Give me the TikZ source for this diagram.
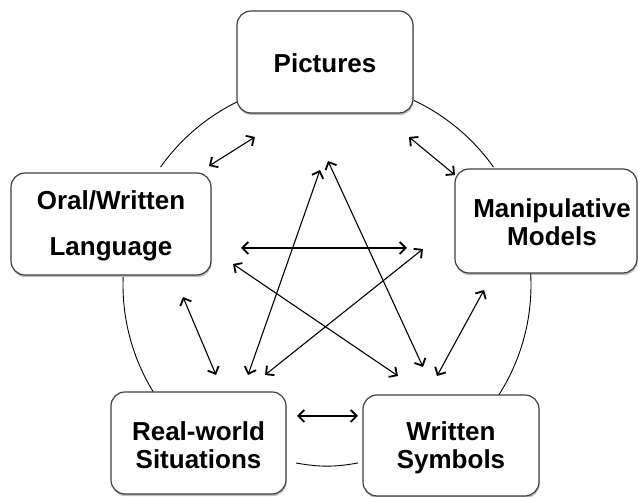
\documentclass[tikz,border=0pt]{standalone}
\usepackage{fontspec}
\setmainfont{Liberation Sans}
\usetikzlibrary{arrows.meta,shadows}
\begin{document}
\begin{tikzpicture}[x=1pt,y=1pt,
  box/.style={draw=black!75, line width=1.2pt, fill=white, rounded corners=14pt,
    drop shadow={shadow xshift=0.6pt, shadow yshift=-2.2pt, opacity=0.35, fill=black!70},
    inner sep=0pt},
  lbl/.style={font=\fontsize{26}{28}\selectfont\bfseries, align=center, inner sep=0pt},
  link/.style={line width=1.1pt, {Straight Barb[length=6pt,width=12pt,line width=1.8pt]}-{Straight Barb[length=6pt,width=12pt,line width=1.8pt]}},
  ring/.style={line width=0.9pt}
]
\useasboundingbox (0,0) rectangle (638,497);
\fill[white] (0,0) rectangle (638,497);

% ring arcs (behind boxes)
\coordinate (ctr) at (327,212);
\draw[ring] ([shift={(115.2:204)}]ctr) arc[start angle=115.2, end angle=144.7, radius=204pt];
\draw[ring] ([shift={(64.8:204)}]ctr) arc[start angle=64.8, end angle=35.3, radius=204pt];
\draw[ring] ([shift={(177.8:204)}]ctr) arc[start angle=177.8, end angle=214.1, radius=204pt];
\draw[ring] ([shift={(3.4:204)}]ctr) arc[start angle=3.4, end angle=-32.9, radius=204pt];
\coordinate (b1) at (296,34);
\coordinate (b2) at (358,34);
\draw[ring] (b1) to[bend right=10] (b2);

% boxes
\node[box, minimum width=176pt, minimum height=102pt] (pic) at (325,435) {};
\node[box, minimum width=200pt, minimum height=102pt] (oral) at (111,273) {};
\node[box, minimum width=182pt, minimum height=104pt] (manip) at (546,276) {};
\node[box, minimum width=175pt, minimum height=102pt] (real) at (198.5,54) {};
\node[box, minimum width=176pt, minimum height=101pt] (writ) at (451,51.5) {};

% labels
\node[lbl] (tpic) at (325,434) {Pictures};
\node[lbl] (toral) at (111,271) {Oral/Written\\[18pt]Language};
\node[lbl] (tmanip) at (552,275) {Manipulative\\Models};
\node[lbl] (treal) at (198.5,52) {Real-world\\Situations};
\node[lbl] (twrit) at (451,49.5) {Written\\Symbols};

% arrow end points
\coordinate (a1) at (209,331); \coordinate (a2) at (255,360);
\coordinate (c1) at (409,360); \coordinate (c2) at (455,322);
\coordinate (h1) at (241,249); \coordinate (h2) at (407,249);
\coordinate (s1) at (248,122); \coordinate (s2) at (320,327);
\coordinate (t1) at (328,336); \coordinate (t2) at (423,130);
\coordinate (u1) at (233,233); \coordinate (u2) at (398,121);
\coordinate (v1) at (265,122); \coordinate (v2) at (423,248);
\coordinate (d1) at (183,200); \coordinate (d2) at (216,122);
\coordinate (e1) at (484,207); \coordinate (e2) at (437,121);
\coordinate (f1) at (297,81);  \coordinate (f2) at (358,81);

\draw[link] (a1) -- (a2);
\draw[link] (c1) -- (c2);
\draw[link] (h1) -- (h2);
\draw[link] (s1) -- (s2);
\draw[link] (t1) -- (t2);
\draw[link] (u1) -- (u2);
\draw[link] (v1) -- (v2);
\draw[link] (d1) -- (d2);
\draw[link] (e1) -- (e2);
\draw[link] (f1) -- (f2);
\end{tikzpicture}
\end{document}
